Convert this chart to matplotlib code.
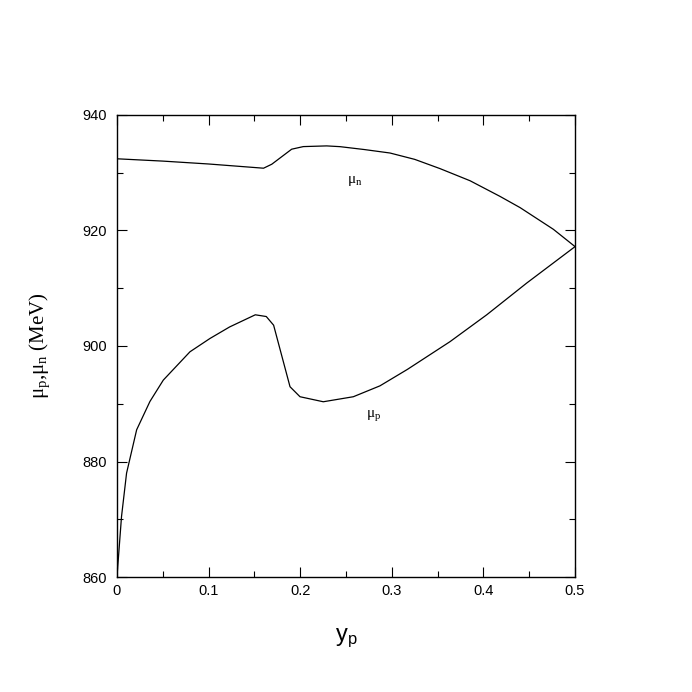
import numpy as np
import matplotlib
matplotlib.use("Agg")
import matplotlib.pyplot as plt
from matplotlib.ticker import MultipleLocator

plt.rcParams['mathtext.fontset'] = 'custom'
plt.rcParams['mathtext.rm'] = 'Liberation Serif'
plt.rcParams['mathtext.it'] = 'Liberation Serif:italic'
plt.rcParams['mathtext.sf'] = 'Liberation Sans'

# ---------- data ----------
yp_n = [0.0, 0.05, 0.10, 0.160, 0.169, 0.1907, 0.2034, 0.2289, 0.2434, 0.27,
        0.298, 0.325, 0.3526, 0.3854, 0.418, 0.44, 0.4763, 0.5]
mu_n = [932.4, 932.0, 931.5, 930.77, 931.46, 934.06, 934.51, 934.63, 934.5, 934.0,
        933.4, 932.3, 930.7, 928.6, 925.9, 923.95, 920.2, 917.2]

yp_p = [0.0, 0.005, 0.0105, 0.0215, 0.036, 0.0506, 0.0797, 0.1015, 0.123, 0.151,
        0.163, 0.171, 0.1889, 0.1998, 0.2252, 0.258, 0.287, 0.317, 0.3635, 0.4036,
        0.4473, 0.5]
mu_p = [860.0, 870.5, 878.0, 885.5, 890.4, 894.1, 899.0, 901.3, 903.3, 905.4,
        905.1, 903.6, 892.95, 891.22, 890.35, 891.22, 893.1, 895.95, 900.75, 905.4,
        910.9, 917.2]

xticks = [0, 0.1, 0.2, 0.3, 0.4, 0.5]
xticklabels = ['0', '0.1', '0.2', '0.3', '0.4', '0.5']

fig = plt.figure(figsize=(6.92, 6.92), dpi=100)
ax = fig.add_axes([0.169, 0.166, 0.662, 0.668])

ax.plot(yp_n, mu_n, color='black', lw=0.9)
ax.plot(yp_p, mu_p, color='black', lw=0.9)

ax.set_xlim(0, 0.5)
ax.set_ylim(860, 940)
ax.set_xticks(xticks)
ax.set_xticklabels(xticklabels)
ax.xaxis.set_minor_locator(MultipleLocator(0.05))
ax.yaxis.set_major_locator(MultipleLocator(20))
ax.yaxis.set_minor_locator(MultipleLocator(10))
ax.tick_params(which='both', direction='in', top=True, right=True,
               labelsize=10.5, width=0.8)
ax.tick_params(axis='y', pad=7)
ax.tick_params(axis='x', pad=5)
ax.tick_params(which='major', length=7)
ax.tick_params(which='minor', length=4)
for lab in ax.get_xticklabels() + ax.get_yticklabels():
    lab.set_family('Liberation Sans')
for s in ax.spines.values():
    s.set_linewidth(1.0)

ax.text(0.251, 928.2, 'μ$_\\mathrm{n}$', family='Liberation Serif', fontsize=11)
ax.text(0.272, 887.8, 'μ$_\\mathrm{p}$', family='Liberation Serif', fontsize=11)

ax.set_xlabel('y$_\\mathsf{p}$', family='Liberation Sans', fontsize=17, labelpad=20)
ax.set_ylabel('μ$_\\mathrm{p}$,μ$_\\mathrm{n}$ (MeV)', family='Liberation Serif',
              fontsize=15, labelpad=22)

fig.savefig('out.png', dpi=100)
